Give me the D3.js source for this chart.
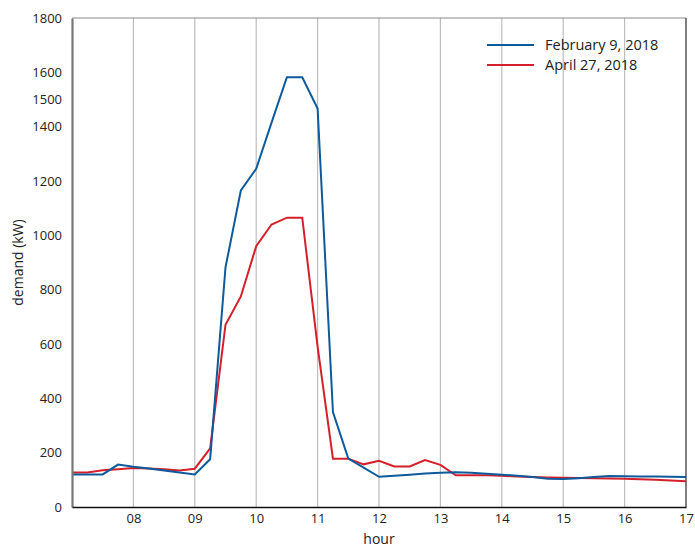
<!DOCTYPE html>
<html>
<head>
<meta charset="utf-8">
<script src="https://cdn.jsdelivr.net/npm/d3@7"></script>
<style>
  body { margin: 0; background: #fff; }
  text { font-family: "Open Sans", "Noto Sans", sans-serif; fill: #222; }
</style>
</head>
<body>
<div id="chart"></div>
<script>
// 15-minute readings, 07:00 to 17:00
const times = [
  "07:00", "07:15", "07:30", "07:45", "08:00", "08:15", "08:30", "08:45",
  "09:00", "09:15", "09:30", "09:45", "10:00", "10:15", "10:30", "10:45",
  "11:00", "11:15", "11:30", "11:45", "12:00", "12:15", "12:30", "12:45",
  "13:00", "13:15", "13:30", "13:45", "14:00", "14:15", "14:30", "14:45",
  "15:00", "15:15", "15:30", "15:45", "16:00", "16:15", "16:30", "16:45",
  "17:00"
];

const febValues = [
  120, 120, 120, 156, 148, 142, 134, 127,
  120, 176, 882, 1165, 1245, 1415, 1582, 1582,
  1467, 349, 178, 145, 111, 115, 119, 123,
  126, 128, 126, 122, 119, 115, 110, 104,
  103, 106, 110, 114, 113, 112, 112, 111,
  110
];

const aprValues = [
  127, 127, 135, 139, 144, 142, 139, 134,
  141, 216, 671, 775, 960, 1040, 1065, 1065,
  590, 178, 178, 157, 170, 149, 149, 173,
  155, 117, 117, 117, 115, 112, 110, 109,
  108, 107, 106, 105, 104, 102, 100, 98,
  95
];

const seriesNames = ["February 9, 2018", "April 27, 2018"];
const seriesColors = ["#0d5a9c", "#d3202a"];

const yTicks = [0, 200, 400, 600, 800, 1000, 1200, 1400, 1500, 1600, 1800];
const xTicks = [8, 9, 10, 11, 12, 13, 14, 15, 16, 17];

const width = 695, height = 548;
const margin = { top: 18, right: 9, bottom: 41, left: 72 };

const svg = d3.select("#chart")
  .append("svg")
  .attr("width", width)
  .attr("height", height);

// hours as decimal numbers for the x scale
const toHour = t => {
  const [h, m] = t.split(":").map(Number);
  return h + m / 60;
};

const x = d3.scaleLinear()
  .domain([7, 17])
  .range([margin.left, width - margin.right]);

const y = d3.scaleLinear()
  .domain([0, 1800])
  .range([height - margin.bottom, margin.top]);

// vertical grid lines
svg.append("g")
  .selectAll("line")
  .data(xTicks.slice(0, -1))
  .enter()
  .append("line")
  .attr("x1", d => x(d))
  .attr("x2", d => x(d))
  .attr("y1", y(1800))
  .attr("y2", y(0))
  .attr("stroke", "#bdbdbd")
  .attr("stroke-width", 1.2);

// frame: top and right
svg.append("line")
  .attr("x1", x(7)).attr("x2", x(17))
  .attr("y1", y(1800)).attr("y2", y(1800))
  .attr("stroke", "#8a8a8a").attr("stroke-width", 1);
svg.append("line")
  .attr("x1", x(17)).attr("x2", x(17))
  .attr("y1", y(1800)).attr("y2", y(0))
  .attr("stroke", "#555").attr("stroke-width", 1.5);

// lines (red drawn first, blue on top)
const line = d3.line()
  .x((d, i) => x(toHour(times[i])))
  .y(d => y(d));

[aprValues, febValues].forEach((vals, k) => {
  svg.append("path")
    .datum(vals)
    .attr("fill", "none")
    .attr("stroke", seriesColors[1 - k])
    .attr("stroke-width", 2)
    .attr("d", line);
});

// y axis
const yAxis = svg.append("g")
  .attr("transform", `translate(${margin.left},0)`)
  .call(d3.axisLeft(y).tickValues(yTicks).tickSize(0).tickPadding(10).tickFormat(d3.format("d")));
yAxis.select(".domain").attr("stroke", "#777").attr("stroke-width", 2.2);
yAxis.selectAll("text")
  .style("font-size", "13px")
  .style("font-family", "'Open Sans', 'Noto Sans', sans-serif")
  .attr("fill", "#222");

// x axis
const xAxis = svg.append("g")
  .attr("transform", `translate(0,${height - margin.bottom})`)
  .call(d3.axisBottom(x).tickValues(xTicks).tickSize(0).tickPadding(7)
    .tickFormat(d => String(d).padStart(2, "0")));
xAxis.select(".domain").attr("stroke", "#111").attr("stroke-width", 1.5);
xAxis.selectAll("text")
  .style("font-size", "13px")
  .style("font-family", "'Open Sans', 'Noto Sans', sans-serif")
  .attr("fill", "#222");

// axis titles
svg.append("text")
  .attr("x", (x(7) + x(17)) / 2)
  .attr("y", 543.5)
  .attr("text-anchor", "middle")
  .style("font-size", "14px")
  .text("hour");

svg.append("text")
  .attr("transform", `translate(23, ${(y(0) + y(1800)) / 2}) rotate(-90)`)
  .attr("text-anchor", "middle")
  .style("font-size", "14px")
  .text("demand (kW)");

// legend
const legend = svg.append("g")
  .attr("transform", "translate(487, 45)");

legend.selectAll("line")
  .data(seriesNames)
  .enter()
  .append("line")
  .attr("x1", 0).attr("x2", 47)
  .attr("y1", (d, i) => i * 20).attr("y2", (d, i) => i * 20)
  .attr("stroke", (d, i) => seriesColors[i])
  .attr("stroke-width", 2);

legend.selectAll("text")
  .data(seriesNames)
  .enter()
  .append("text")
  .attr("x", 58)
  .attr("y", (d, i) => i * 20 + 5)
  .style("font-size", "14.5px")
  .text(d => d);
</script>
</body>
</html>
